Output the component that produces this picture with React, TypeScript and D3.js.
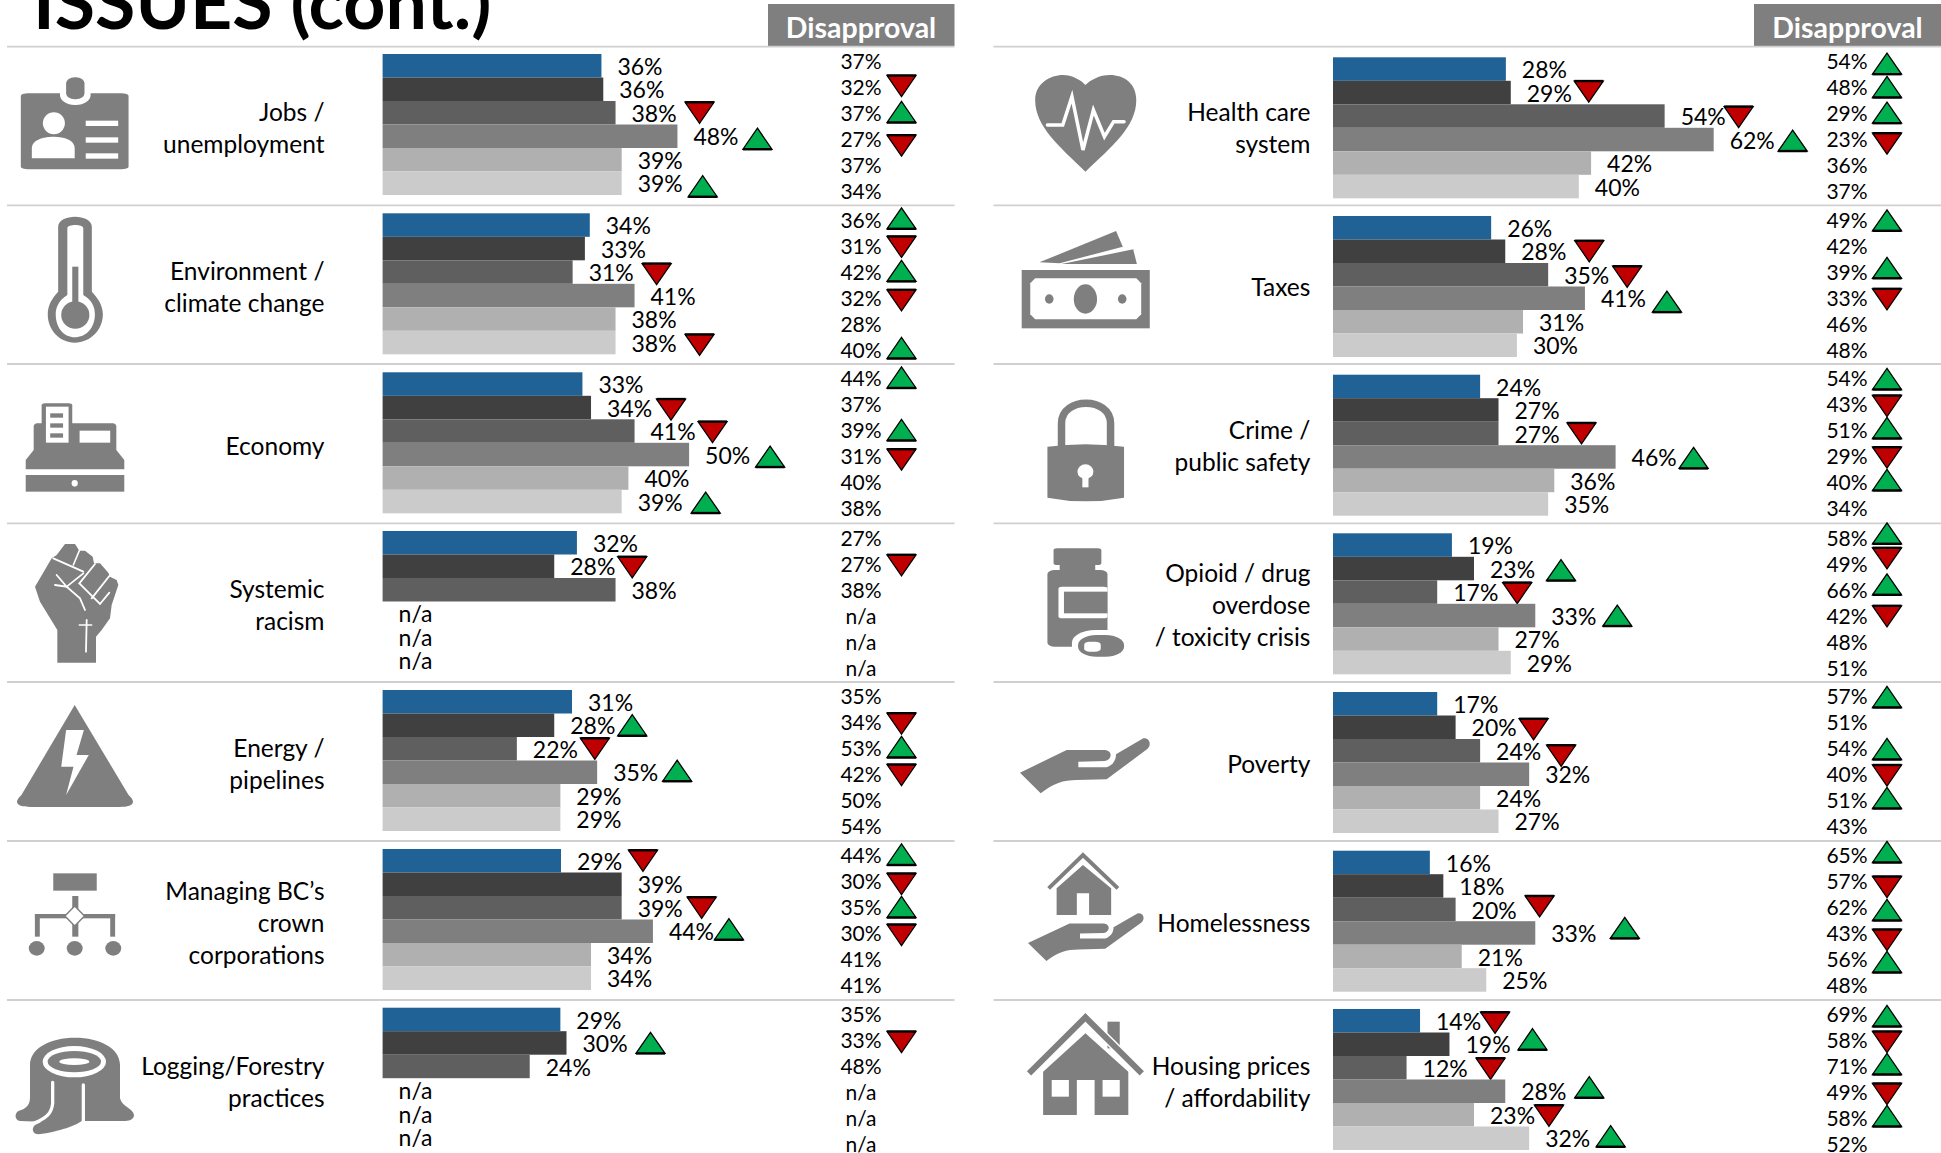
import React from 'react';
import * as d3 from 'd3';

// ---------- data ----------
const leftIssues = [
  ['Jobs /', 'unemployment'],
  ['Environment /', 'climate change'],
  ['Economy'],
  ['Systemic', 'racism'],
  ['Energy /', 'pipelines'],
  ['Managing BC’s', 'crown', 'corporations'],
  ['Logging/Forestry', 'practices'],
];
const rightIssues = [
  ['Health care', 'system'],
  ['Taxes'],
  ['Crime /', 'public safety'],
  ['Opioid / drug', 'overdose', '/ toxicity crisis'],
  ['Poverty'],
  ['Homelessness'],
  ['Housing prices', '/ affordability'],
];
const leftApproval = [
  [35.7, 36, 38, 48.1, 39, 39],
  [33.8, 33, 31, 41.1, 38, 38],
  [32.6, 34, 41.1, 50, 40.1, 39],
  [31.7, 28, 38, null, null, null],
  [30.9, 28, 21.9, 35, 29, 29],
  [29.1, 39, 39, 44.1, 34, 34],
  [29, 30, 24, null, null, null],
];
const rightApproval = [
  [28.2, 29, 54.1, 62.1, 42.1, 40.1],
  [25.8, 28.1, 35.1, 41.1, 31, 30],
  [24, 27, 27, 46.1, 36.1, 35.1],
  [19.4, 23, 17, 33, 27, 29],
  [17, 20, 24, 32, 24, 27],
  [15.8, 18, 20, 33, 21, 25],
  [14.2, 19, 12, 28.1, 23, 32],
];
const leftApprovalTrend = [
  [0, 0, -1, 1, 0, 1],
  [0, 0, -1, 0, 0, -1],
  [0, -1, -1, 1, 0, 1],
  [0, -1, 0, 0, 0, 0],
  [0, 1, -1, 1, 0, 0],
  [-1, 0, -1, 1, 0, 0],
  [0, 1, 0, 0, 0, 0],
];
const rightApprovalTrend = [
  [0, -1, -1, 1, 0, 0],
  [0, -1, -1, 1, 0, 0],
  [0, 0, -1, 1, 0, 0],
  [0, 1, -1, 1, 0, 0],
  [0, -1, -1, 0, 0, 0],
  [0, 0, -1, 1, 0, 0],
  [-1, 1, -1, 1, -1, 1],
];
const leftDisapproval = [
  [37, 32, 37, 27, 37, 34],
  [36, 31, 42, 32, 28, 40],
  [44, 37, 39, 31, 40, 38],
  [27, 27, 38, null, null, null],
  [35, 34, 53, 42, 50, 54],
  [44, 30, 35, 30, 41, 41],
  [35, 33, 48, null, null, null],
];
const rightDisapproval = [
  [54, 48, 29, 23, 36, 37],
  [49, 42, 39, 33, 46, 48],
  [54, 43, 51, 29, 40, 34],
  [58, 49, 66, 42, 48, 51],
  [57, 51, 54, 40, 51, 43],
  [65, 57, 62, 43, 56, 48],
  [69, 58, 71, 49, 58, 52],
];
const leftDisapprovalTrend = [
  [0, -1, 1, -1, 0, 0],
  [1, -1, 1, -1, 0, 1],
  [1, 0, 1, -1, 0, 0],
  [0, -1, 0, 0, 0, 0],
  [0, -1, 1, -1, 0, 0],
  [1, -1, 1, -1, 0, 0],
  [0, -1, 0, 0, 0, 0],
];
const rightDisapprovalTrend = [
  [1, 1, 1, -1, 0, 0],
  [1, 0, 1, -1, 0, 0],
  [1, -1, 1, -1, 1, 0],
  [1, -1, 1, -1, 0, 0],
  [1, 0, 1, -1, 1, 0],
  [1, -1, 1, -1, 1, 0],
  [1, -1, 1, -1, 1, 0],
];

// ---------- layout ----------
const FONT = 'Lato, Carlito, Calibri, sans-serif';
const GRAY = '#7f7f7f';
const BAR_COLORS = ['#206296', '#404040', '#5f5f5f', '#7f7f7f', '#b0b0b0', '#cbcbcb'];
const ROW_LINES = [46.7, 205.3, 364, 523.3, 682, 841, 1000];
const LEFT_TOPS = [54, 213.3, 372.3, 531, 690, 849, 1007.7];
const RIGHT_TOPS = [57.3, 216, 374.7, 533.3, 692, 850.7, 1009];

// [x distance from bar end, y offset from bar centre] for each trend marker, keyed row-bar
const LEFT_MARK: Record<string, [number, number]> = {
  '0-2': [84, 0], '0-3': [80, 2.5], '0-5': [81, 3],
  '1-2': [84, 2], '1-5': [84, 2.4],
  '2-1': [80, 2], '2-2': [78, 1], '2-3': [81, 2], '2-5': [84, 1],
  '3-1': [78, 1],
  '4-1': [78, 0], '4-2': [78, 0], '4-3': [80, -1.5],
  '5-0': [82, 0], '5-2': [80, 0], '5-3': [76, -2],
  '6-1': [84, 0],
};
const RIGHT_MARK: Record<string, [number, number]> = {
  '0-1': [78, -1], '0-2': [74, 1], '0-3': [79, 1],
  '1-1': [84, 0], '1-2': [79, 2], '1-3': [82, 3.4],
  '2-2': [83, 0], '2-3': [78, 1],
  '3-1': [87, 1.5], '3-2': [80, 1], '3-3': [82, 0],
  '4-1': [78, 2], '4-2': [81, 5],
  '5-2': [84, -3], '5-3': [89.5, -5],
  '6-0': [75, 2], '6-1': [83, -5], '6-2': [84, 1], '6-3': [84, -4], '6-4': [75, 1], '6-5': [81.5, -2],
};
// y offset of a disapproval marker from its text
const LEFT_DIS_DY = [
  [0, -1.7, -1.7, 6, 0, 0],
  [-2, 0.6, -1.4, 2, 0, -2.3],
  [-1.5, 0, -1, 2.7, 0, 0],
  [0, 1, 0, 0, 0, 0],
  [0, 0.7, -2, 0, 0, 0],
  [-1.5, 2, -1, 1, 0, 0],
  [0, 1, 0, 0, 0, 0],
];
const RIGHT_DIS_DY = [
  [2, -0.7, -1, 4, 0, 0],
  [0, 0, -4.5, 1, 0, 0],
  [0, 1, -3, 0.7, -3, 0],
  [-5, -6, -6, 0, 0, 0],
  [0, 0, 0, 0.5, -3, 0],
  [-4, 5, 2, 6, 2, 0],
  [1, 1, -3, 1, -3, 0],
];

const COLUMNS = [
  {
    issues: leftIssues, approval: leftApproval, aTrend: leftApprovalTrend,
    dis: leftDisapproval, dTrend: leftDisapprovalTrend,
    tops: LEFT_TOPS, base: 382.6, labelRight: 324.5, disX: 861, disMark: 901.5,
    marks: LEFT_MARK, disDy: LEFT_DIS_DY,
    lineX: [7, 954.5], box: [768, 954.5], boxText: 861,
  },
  {
    issues: rightIssues, approval: rightApproval, aTrend: rightApprovalTrend,
    dis: rightDisapproval, dTrend: rightDisapprovalTrend,
    tops: RIGHT_TOPS, base: 1333, labelRight: 1310.4, disX: 1847, disMark: 1887,
    marks: RIGHT_MARK, disDy: RIGHT_DIS_DY,
    lineX: [993.5, 1941], box: [1754, 1941], boxText: 1847.5,
  },
];

const xScale = d3.scaleLinear().domain([0, 100]).range([0, 613]);
const barBand = d3.scaleBand<number>().domain(d3.range(6)).range([0, 141]);

function Triangle({ cx, cy, dir }: { cx: number; cy: number; dir: number }) {
  const w = 29, h = 21;
  const baseY = cy - (dir * -h) / 2;
  const tipY = cy + (dir * -h) / 2;
  return (
    <g>
      <path
        d={`M${cx - w / 2},${baseY}L${cx + w / 2},${baseY}L${cx},${tipY}Z`}
        fill={dir > 0 ? '#00b050' : '#c00000'}
        stroke="#000"
        strokeWidth={1.3}
        strokeLinejoin="miter"
      />
      <line x1={cx - w / 2} x2={cx + w / 2} y1={baseY} y2={baseY} stroke="#000" strokeWidth={2.4} />
    </g>
  );
}

// Icon frame: coordinates are measured on a horizontally compressed 3x grid of the picture
function Frame({ ox, oy, right, k, children }: { ox: number; oy: number; right?: boolean; k?: number; children: React.ReactNode }) {
  const sx = k ?? (right ? 1 / 1.6316 : 1 / 1.6333);
  const sy = k ?? 1 / 3;
  return <g transform={`translate(${ox},${oy}) scale(${sx},${sy})`} fill={GRAY}>{children}</g>;
}
const W = (p: { d: string; w?: number }) => (
  <path d={p.d} fill="none" stroke="#fff" strokeWidth={p.w ?? 3} strokeLinecap="round" vectorEffect="non-scaling-stroke" />
);

const HAND_PATH = 'M30,143 L170,75 L285,75 C310,78 305,105 285,108 L205,110 L205,127 L290,127 C310,120 318,105 318,88 L400,40 C420,38 425,60 412,72 L290,163 L200,165 C160,165 130,175 92,205 Z';

function Icons() {
  return (
    <g>
      {/* ID badge */}
      <Frame ox={0} oy={0}>
        <rect x={34} y={280} width={176} height={228} rx={12} ry={8} />
        <rect x={98} y={225} width={50} height={90} rx={24} ry={30} fill="#fff" />
        <rect x={108} y={232} width={30} height={66} rx={14} ry={18} />
        <ellipse cx={88} cy={370} rx={18} ry={33} fill="#fff" />
        <path d="M52,475 L52,445 C52,420 70,410 88,410 C105,410 122,420 122,445 L122,475 Z" fill="#fff" />
        <rect x={140} y={362} width={53} height={16} fill="#fff" />
        <rect x={140} y={412} width={53} height={16} fill="#fff" />
        <rect x={140} y={460} width={53} height={16} fill="#fff" />
      </Frame>
      {/* thermometer */}
      <Frame ox={0} oy={0}>
        <path d="M95,680 C95,640 150,640 150,680 L150,875 C160,895 168,915 168,943 C168,990 148,1028 122,1028 C97,1028 78,990 78,943 C78,915 85,895 95,875 Z" />
        <path d="M110,685 C110,672 136,672 136,685 L136,885 C150,900 155,920 155,943 C155,985 140,1012 122,1012 C105,1012 91,985 91,943 C91,920 97,900 110,885 Z" fill="#fff" />
        <ellipse cx={123} cy={945} rx={23} ry={41} />
        <rect x={118} y={800} width={10} height={120} />
      </Frame>
      {/* cash register */}
      <Frame ox={0} oy={380}>
        <rect x={68} y={70} width={50} height={70} rx={6} />
        <path d="M60,130 L185,130 Q190,132 190,140 L190,210 L203,240 L203,268 L42,268 L42,240 L55,210 L55,140 Q55,132 60,130 Z" />
        <rect x={75} y={80} width={37} height={108} fill="#fff" />
        <rect x={82} y={100} width={21} height={13} />
        <rect x={82} y={130} width={21} height={13} />
        <rect x={82} y={160} width={21} height={13} />
        <rect x={130} y={152} width={50} height={36} fill="#fff" />
        <rect x={42} y={285} width={161} height={50} />
        <ellipse cx={122} cy={310} rx={5} ry={10} fill="#fff" />
      </Frame>
      {/* raised fist */}
      <Frame ox={20} oy={530} k={1 / 3}>
        <path d="M112,398 L112,300 L60,215 L45,170 L95,85 L110,75 L135,42 L165,42 L178,62 L195,62 L218,80 L222,100 L240,100 L265,128 L270,140 L290,150 L295,165 L275,225 L270,265 L245,300 L228,320 L228,398 Z" />
        <W d="M100,85 L190,125" w={1.8} />
        <W d="M178,62 L160,105" w={1.6} />
        <W d="M225,102 L178,160" w={1.8} />
        <W d="M268,138 L215,205" w={1.8} />
        <W d="M178,160 L240,222 L268,188" w={1.8} />
        <W d="M110,135 L140,170 L105,165" w={1.8} />
        <W d="M190,130 L140,170 L180,205 L195,240" w={1.8} />
        <W d="M200,270 L198,365" w={1.8} />
        <W d="M178,285 L215,285" w={1.6} />
      </Frame>
      {/* warning triangle */}
      <Frame ox={0} oy={380}>
        <path d="M122,975 L210,1245 C225,1270 215,1281 195,1281 L50,1281 C30,1281 20,1270 35,1245 Z" />
        <path d="M108,1050 L137,1050 L125,1125 L145,1125 L108,1245 L120,1160 L100,1160 Z" fill="#fff" />
      </Frame>
      {/* org chart */}
      <Frame ox={0} oy={780}>
        <rect x={87} y={280} width={71} height={52} />
        <rect x={118} y={348} width={10} height={122} />
        <rect x={57} y={402} width={131} height={13} />
        <rect x={57} y={402} width={8} height={68} />
        <rect x={180} y={402} width={8} height={68} />
        <path d="M122,378 L138,408 L122,438 L106,408 Z" fill="#fff" stroke={GRAY} strokeWidth={1.5} vectorEffect="non-scaling-stroke" />
        <ellipse cx={60} cy={505} rx={13} ry={22} />
        <ellipse cx={122} cy={505} rx={13} ry={22} />
        <ellipse cx={185} cy={505} rx={13} ry={22} />
      </Frame>
      {/* tree stump */}
      <Frame ox={10} oy={1025} k={1 / 3}>
        <path d="M60,120 C60,70 120,38 195,38 C270,38 330,70 330,120 L330,220 C335,245 370,250 372,270 C372,285 355,288 340,288 L215,288 C200,300 150,320 85,328 C70,328 62,312 75,300 L95,290 L30,288 C15,285 12,268 25,258 C50,250 60,240 60,215 Z" />
        <W d="M128,172 L128,235 C125,265 110,280 70,295" w={3.3} />
        <W d="M220,180 L220,292" w={3.3} />
        <ellipse cx={193} cy={110} rx={95} ry={47} fill="#fff" />
        <ellipse cx={193} cy={110} rx={80} ry={32} />
        <ellipse cx={193} cy={110} rx={45} ry={10} fill="#fff" />
      </Frame>
      {/* heart */}
      <Frame ox={980} oy={0} right>
        <path d="M172,515 C130,440 90,380 90,300 C90,250 115,225 135,225 C150,225 165,240 172,255 C180,240 195,225 212,225 C235,225 255,250 255,300 C255,380 215,440 172,515 Z" />
        <W d="M110,375 L135,375 L150,290 L168,450 L185,330 L203,410 L218,365 L235,365" w={3.5} />
      </Frame>
      {/* money */}
      <Frame ox={980} oy={0} right>
        <path d="M97,787 L222,693 L233,740 L130,790 Z" />
        <path d="M133,792 L250,748 L256,792 Z" />
        <rect x={68} y={810} width={209} height={175} />
        <path d="M90,835 L255,835 L263,850 L263,943 L255,958 L90,958 L82,943 L82,850 Z" fill="#fff" />
        <ellipse cx={172} cy={897} rx={19} ry={44} />
        <ellipse cx={113} cy={897} rx={7} ry={14} />
        <ellipse cx={232} cy={897} rx={7} ry={14} />
      </Frame>
      {/* padlock */}
      <Frame ox={980} oy={380} right>
        <path d="M133,200 L133,130 C133,50 213,50 213,130 L213,200" fill="none" stroke={GRAY} strokeWidth={7.5} vectorEffect="non-scaling-stroke" />
        <path d="M110,200 Q172,185 235,200 L235,353 Q172,375 110,353 Z" />
        <ellipse cx={172} cy={275} rx={13} ry={22} fill="#fff" />
        <rect x={167} y={280} width={10} height={42} fill="#fff" />
      </Frame>
      {/* pill bottle */}
      <Frame ox={980} oy={380} right>
        <rect x={120} y={505} width={78} height={50} rx={6} />
        <rect x={130} y={550} width={58} height={30} />
        <rect x={110} y={570} width={98} height={230} rx={12} />
        <rect x={128} y={620} width={80} height={95} rx={6} fill="#fff" />
        <rect x={137} y={635} width={71} height={65} />
        <rect x={150} y={750} width={95} height={90} rx={38} fill="#fff" />
        <rect x={160} y={765} width={75} height={65} rx={30} />
        <rect x={170} y={785} width={27} height={30} rx={9} fill="#fff" />
      </Frame>
      {/* poverty hand */}
      <Frame ox={1010} oy={725} k={1 / 3}>
        <path d={HAND_PATH} />
      </Frame>
      {/* homelessness */}
      <Frame ox={980} oy={780} right>
        <path d="M112,325 L168,225 L225,325" fill="none" stroke={GRAY} strokeWidth={4} vectorEffect="non-scaling-stroke" />
        <path d="M125,405 L125,325 L168,255 L214,325 L214,405 L178,405 L178,340 L158,340 L158,405 Z" />
      </Frame>
      <g transform="translate(1028,912.7) scale(0.297,0.289) translate(-30,-38)" fill={GRAY}>
        <path d={HAND_PATH} />
      </g>
      {/* house */}
      <Frame ox={980} oy={780} right>
        <rect x={208} y={725} width={20} height={80} />
        <path d="M80,880 L172,712 L264,880" fill="none" stroke="#fff" strokeWidth={9} vectorEffect="non-scaling-stroke" />
        <path d="M80,880 L172,712 L264,880" fill="none" stroke={GRAY} strokeWidth={6} vectorEffect="non-scaling-stroke" />
        <path d="M103,1005 L103,875 L172,760 L242,875 L242,1005 L187,1005 L187,900 L158,900 L158,1005 Z" />
        <rect x={117} y={900} width={28} height={50} fill="#fff" />
        <rect x={200} y={900} width={28} height={50} fill="#fff" />
      </Frame>
    </g>
  );
}

export default function App() {
  return (
    <svg
      width={1941}
      height={1153}
      viewBox="0 0 1941 1153"
      style={{ position: 'absolute', left: 0, top: 0, display: 'block', background: '#fff' }}
      fontFamily={FONT}
    >
      <text x={33} y={29} fontSize={73.5} fontWeight={700} fill="#000">ISSUES (cont.)</text>
      {COLUMNS.map((c, ci) => (
        <g key={ci}>
          <rect x={c.box[0]} y={4} width={c.box[1] - c.box[0]} height={42} fill={GRAY} />
          <text x={c.boxText} y={28} dy="0.35em" textAnchor="middle" fontSize={28.5} fontWeight={700} fill="#fff">Disapproval</text>
          {ROW_LINES.map((y, r) => (
            <line key={r} x1={c.lineX[0]} x2={c.lineX[1]} y1={y} y2={y} stroke="#d0d0d0" strokeWidth={1.8} />
          ))}
          {c.issues.map((lines, r) => {
            const cy = ROW_LINES[r] + 82;
            return (
              <text key={r} textAnchor="end" fontSize={24.5} fill="#000">
                {lines.map((t, i) => (
                  <tspan key={i} x={c.labelRight} y={cy + (i - (lines.length - 1) / 2) * 32} dy="0.35em">{t}</tspan>
                ))}
              </text>
            );
          })}
          {c.approval.map((vals, r) => (
            <g key={r}>
              {vals.map((v, b) => {
                const y = c.tops[r] + (barBand(b) as number);
                const h = barBand.bandwidth();
                const cy = y + h / 2;
                const end = c.base + (v == null ? 0 : xScale(v));
                const t = c.aTrend[r][b];
                const m = c.marks[`${r}-${b}`];
                return (
                  <g key={b}>
                    {v != null && <rect x={c.base} y={y} width={xScale(v)} height={h} fill={BAR_COLORS[b]} />}
                    <text x={end + 16} y={cy + 1} dy="0.35em" fontSize={23} fill="#000">
                      {v == null ? 'n/a' : `${d3.format('.0f')(v)}%`}
                    </text>
                    {t !== 0 && m && <Triangle cx={end + m[0]} cy={cy + m[1]} dir={t} />}
                  </g>
                );
              })}
            </g>
          ))}
          {c.dis.map((vals, r) =>
            vals.map((v, b) => {
              const cy = ROW_LINES[r] + 15 + b * 26;
              const t = c.dTrend[r][b];
              return (
                <g key={`${r}-${b}`}>
                  <text x={c.disX} y={cy} dy="0.35em" textAnchor="middle" fontSize={21} fill="#000">
                    {v == null ? 'n/a' : `${v}%`}
                  </text>
                  {t !== 0 && <Triangle cx={c.disMark} cy={cy + c.disDy[r][b]} dir={t} />}
                </g>
              );
            })
          )}
        </g>
      ))}
      <Icons />
    </svg>
  );
}
